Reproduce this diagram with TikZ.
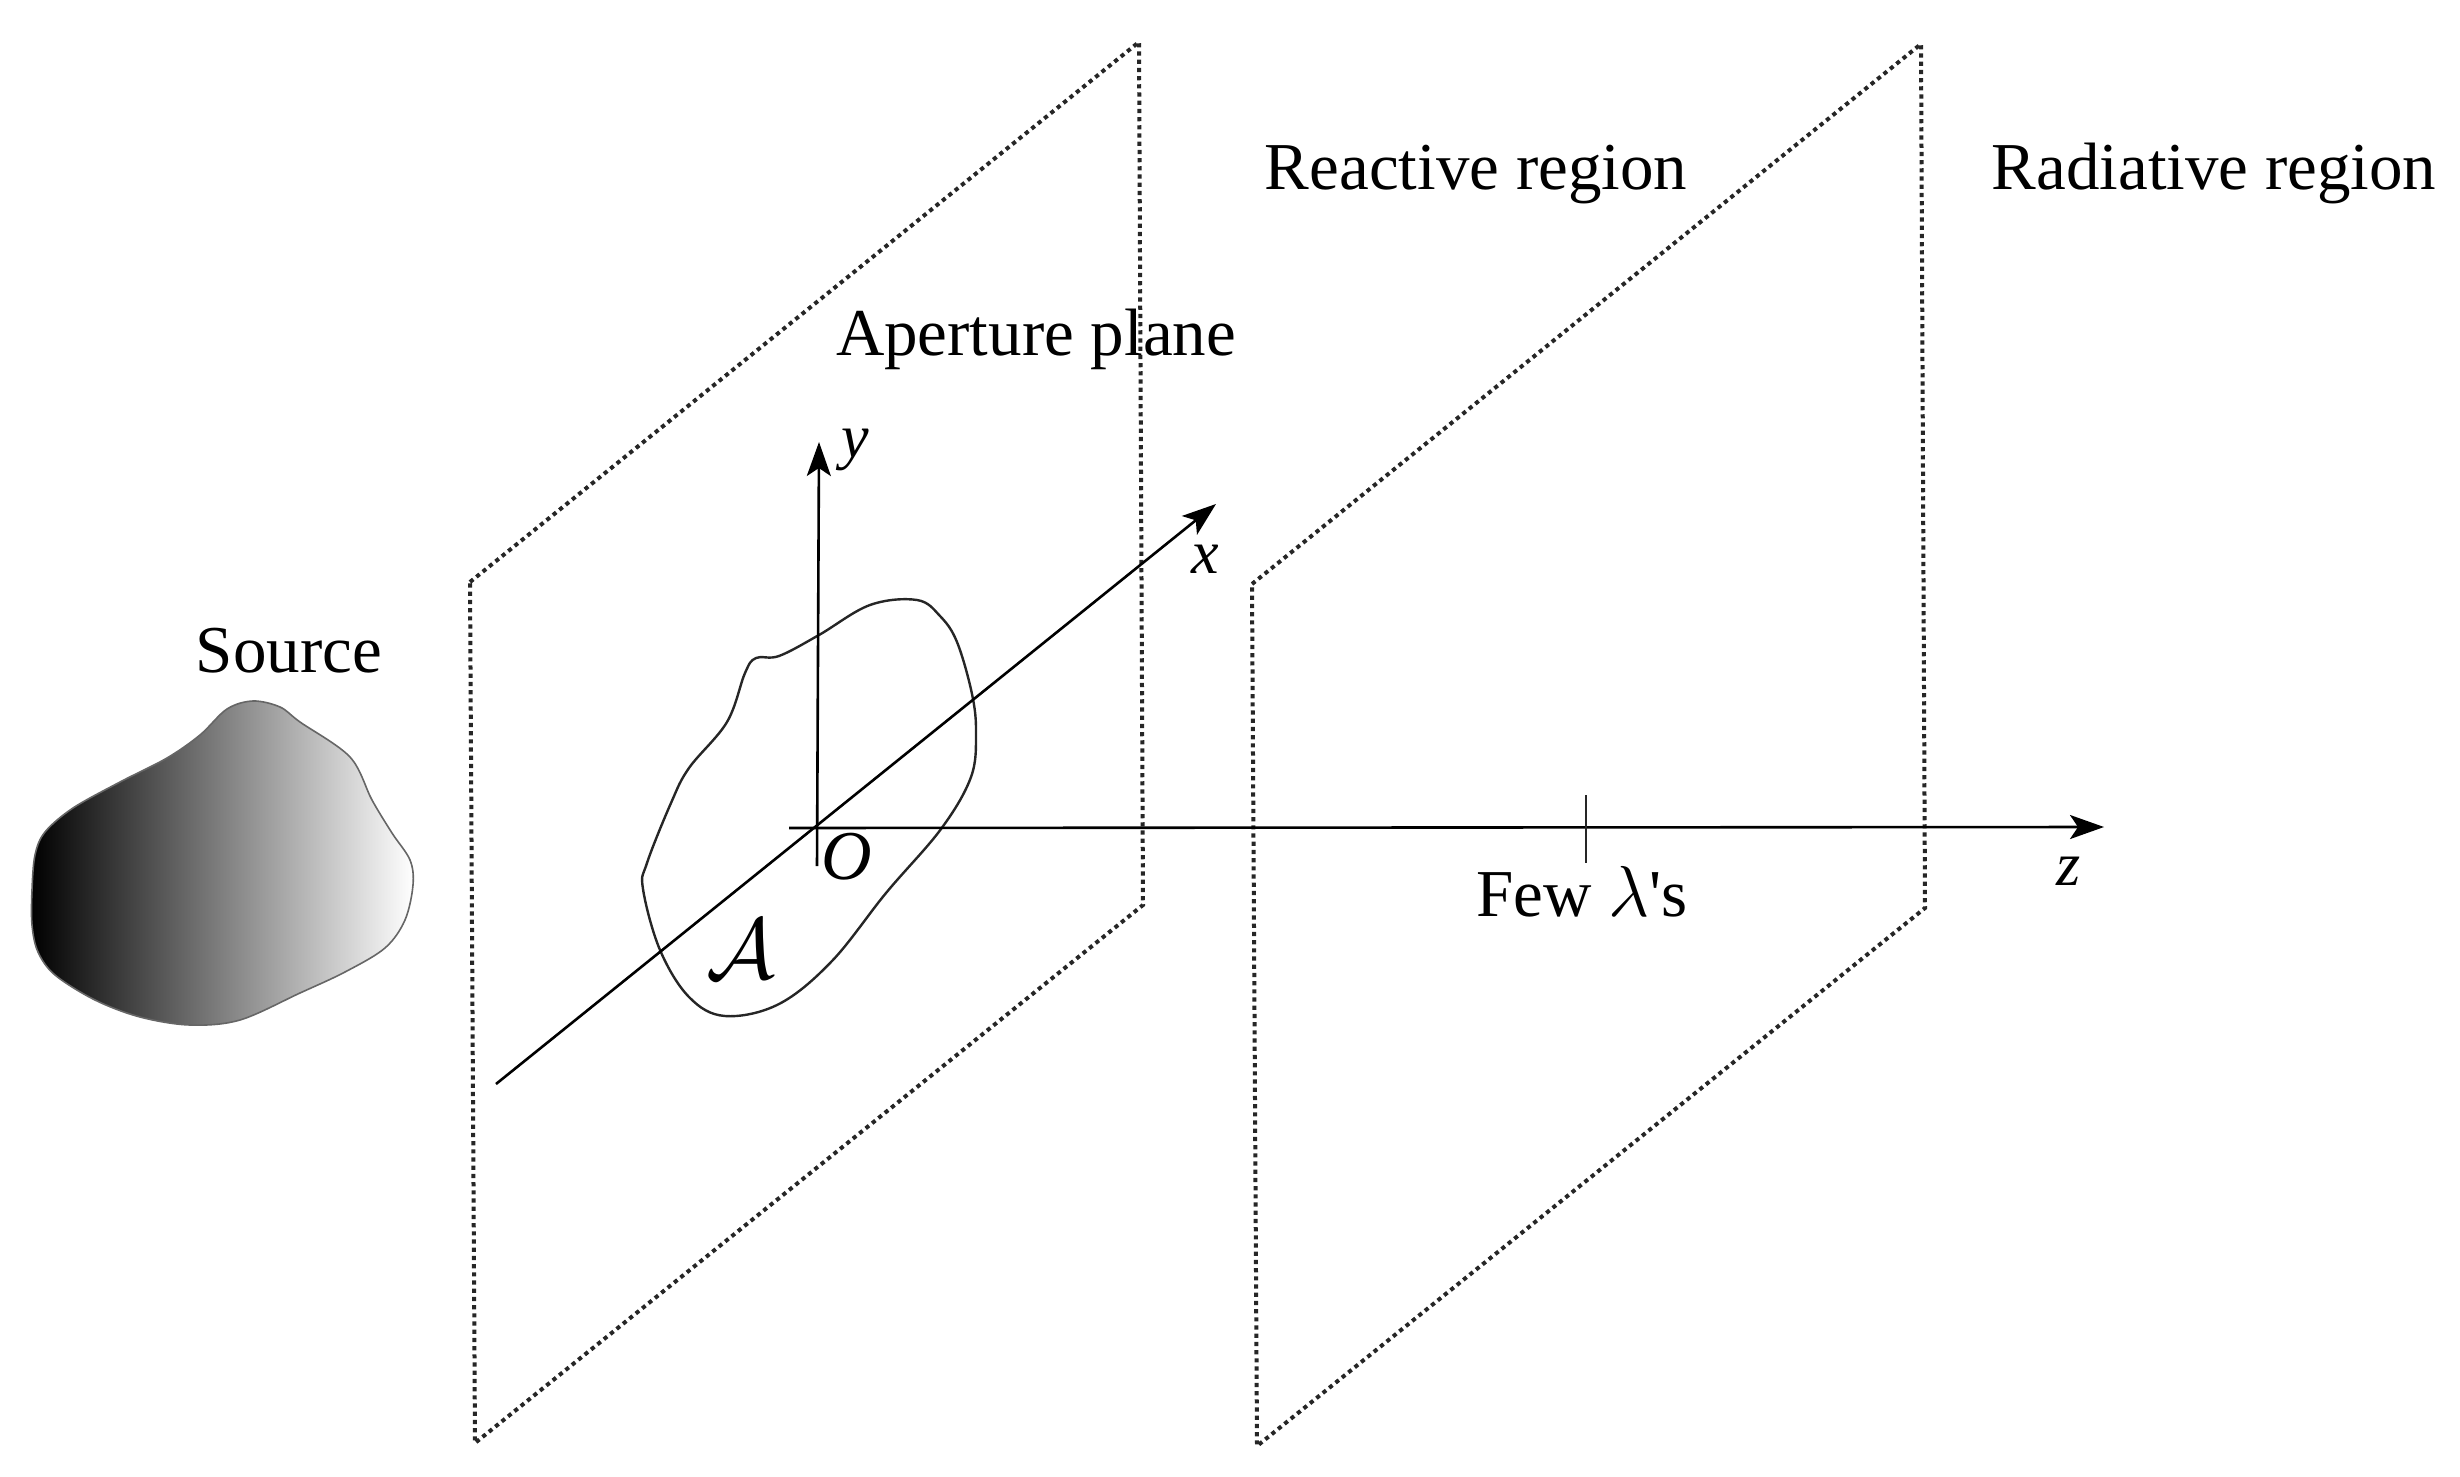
\documentclass[tikz,border=0pt]{standalone}
\usepackage{fontspec}
\setmainfont{Liberation Serif}
\usetikzlibrary{arrows.meta}
\usepackage{graphicx}
\tikzset{
  plane/.style={line width=4pt,dash pattern=on 4.2pt off 4pt,black!85},
  axisline/.style={line width=2.6pt,black,-{Stealth[length=34pt,width=24pt,inset=8pt]}},
  lbl/.style={inner sep=0pt,anchor=base,font=\fontsize{67}{70}\selectfont,text=black},
  sym/.style={inner sep=0pt,font=\fontsize{62}{66}\selectfont\itshape,text=black}
}
\begin{document}
\begin{tikzpicture}[x=1pt,y=-1pt]
\useasboundingbox (0,0) rectangle (2460,1477);
% source
\shade[left color=black,right color=white,draw=black!60,line width=1.6pt]
  plot[smooth cycle,tension=0.55] coordinates {
  (32,890)(35,855)(45,832)(73,808)(120,782)(167,758)(200,735)(227,709)(253,701)(280,707)(300,722)(350,757)
  (372,800)(392,833)(410,860)(413,885)(405,920)(385,948)(345,972)(300,993)(240,1020)(190,1025)(140,1017)
  (95,1000)(55,975)(38,952)(32,925)};
% planes
\coordinate (a1) at (470,582);\coordinate (a2) at (1139,42);\coordinate (a3) at (1143,905);\coordinate (a4) at (475,1443);
\coordinate (b1) at (1252,584);\coordinate (b2) at (1921,44);\coordinate (b3) at (1925,908);\coordinate (b4) at (1257,1446);
\draw[plane] (a1)--(a2)--(a3)--(a4)--cycle;
\draw[plane] (b1)--(b2)--(b3)--(b4)--cycle;
% aperture
\draw[line width=2.4pt,black!85] plot[smooth cycle,tension=0.6] coordinates {
 (647,863)(643,889)(660,950)(689,997)(725,1016)(779,1004)(832,961)(886,893)(941,829)(971,777)(976,733)(972,694)
 (957,642)(940,616)(917,600)(870,605)(819,635)(779,656)(756,658)(745,673)(727,722)(689,768)(671,803)};
% axes
\coordinate (z0) at (789,828);\coordinate (z1) at (2104,827);
\coordinate (y0) at (817,866);\coordinate (y1) at (819,442);
\coordinate (x0) at (496,1084);\coordinate (x1) at (1216,504);
\coordinate (t0) at (1586,795);\coordinate (t1) at (1586,863);
\draw[axisline] (z0)--(z1);
\draw[axisline] (y0)--(y1);
\draw[axisline] (x0)--(x1);
\draw[line width=2pt,black!85] (t0)--(t1);
% labels
\node[lbl] (reactive) at (1476,189) {Reactive region};
\node[lbl] (radiative) at (2214,189) {Radiative region};
\node[lbl] (aperture) at (1036,355) {Aperture plane};
\node[lbl] (source) at (289,672) {Source};
\node[lbl] (few) at (1582,916) {Few \scalebox{2.9}{$\lambda$}\textquotesingle s};
\node[sym] (ylab) at (855,450) {y};
\node[sym] (xlab) at (1205,559) {x};
\node[sym] (zlab) at (2069,871) {z};
\node[sym,font=\fontsize{70}{74}\selectfont\itshape] (olab) at (847,857) {O};
\node[inner sep=0pt] (alab) at (741,949) {\scalebox{8.6}{$\mathcal{A}$}};
\end{tikzpicture}
\end{document}
